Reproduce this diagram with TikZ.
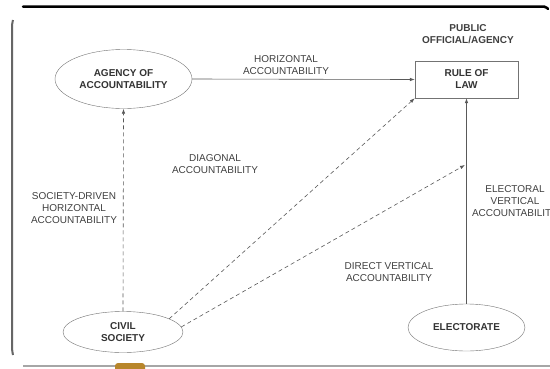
\documentclass[tikz,border=0pt]{standalone}
\usepackage{fontspec}
\setmainfont{Liberation Sans}
\usetikzlibrary{shapes.geometric}
\usetikzlibrary{arrows.meta}
\definecolor{tabgold}{RGB}{184,134,43}

\begin{document}
\begin{tikzpicture}[x=1pt, y=-1pt]
            \tikzstyle{oval} = [draw=black!55, ellipse, inner sep=0pt, align=center, text=black!80, font=\bfseries\fontsize{10}{12}\selectfont]
            \tikzstyle{box} = [draw=black!55, rectangle, inner sep=0pt, align=center, text=black!80, font=\bfseries\fontsize{10}{12}\selectfont]
            \tikzstyle{lbl} = [align=center, inner sep=0pt, text=black!75, font=\fontsize{10}{12}\selectfont]
            \tikzstyle{solidarrow} = [draw=black!65, line width=0.6pt, -{Latex[length=5pt, width=3.5pt]}]
            \tikzstyle{dashedarrow} = [solidarrow, dash pattern=on 4pt off 3pt]
            \useasboundingbox (0, 0) rectangle (550, 368);
            \fill[white] (0, 0) rectangle (550, 368);
            \draw[line width=2.5pt, line cap=round, rounded corners=2pt] (23, 6.5) -- (546, 6.5) -- (548, 9);
            \draw[black!60, line width=2pt, rounded corners=3pt] (13, 20) -- (12, 24) -- (12, 350) -- (13, 355);
            \draw[black!35, line width=1.5pt] (23, 366) -- (552, 366);
            \fill[tabgold, rounded corners=3pt] (115, 370) -- (115, 363) -- (145, 363) -- (145, 370);

            \node[oval, minimum width=137pt, minimum height=59pt] (agency) at (123.5, 79) {AGENCY OF\\ACCOUNTABILITY};
            \node[box, minimum width=103pt, minimum height=37pt] (law) at (466.5, 79.5) {RULE OF\\LAW};
            \node[oval, minimum width=120pt, minimum height=41pt] (civil) at (123, 332) {CIVIL\\SOCIETY};
            \node[oval, minimum width=117pt, minimum height=47pt] (elect) at (466.5, 327.5) {ELECTORATE};
            \coordinate (onvert) at (465, 165);

            \node[lbl, font=\bfseries\fontsize{10}{12}\selectfont] (public) at (468, 34) {PUBLIC\\OFFICIAL/AGENCY};
            \node[lbl] (horiz) at (286, 65) {HORIZONTAL\\ACCOUNTABILITY};
            \node[lbl] (diag) at (215, 164.5) {DIAGONAL\\ACCOUNTABILITY};
            \node[lbl] (sdriven) at (74, 208) {SOCIETY-DRIVEN\\HORIZONTAL\\ACCOUNTABILITY};
            \node[lbl] (direct) at (389, 272) {DIRECT VERTICAL\\ACCOUNTABILITY};
            \node[lbl] (electoral) at (515, 201.5) {ELECTORAL\\VERTICAL\\ACCOUNTABILITY};

            \draw[solidarrow] (agency.east) -- (law.west);
            \draw[dashedarrow] (civil.north) -- (agency.south);
            \draw[dashedarrow] (civil.16) -- (law.south west);
            \draw[dashedarrow] (civil.5) -- (onvert);
            \draw[solidarrow] (elect.north) -- (law.south);
        \end{tikzpicture}
\end{document}
